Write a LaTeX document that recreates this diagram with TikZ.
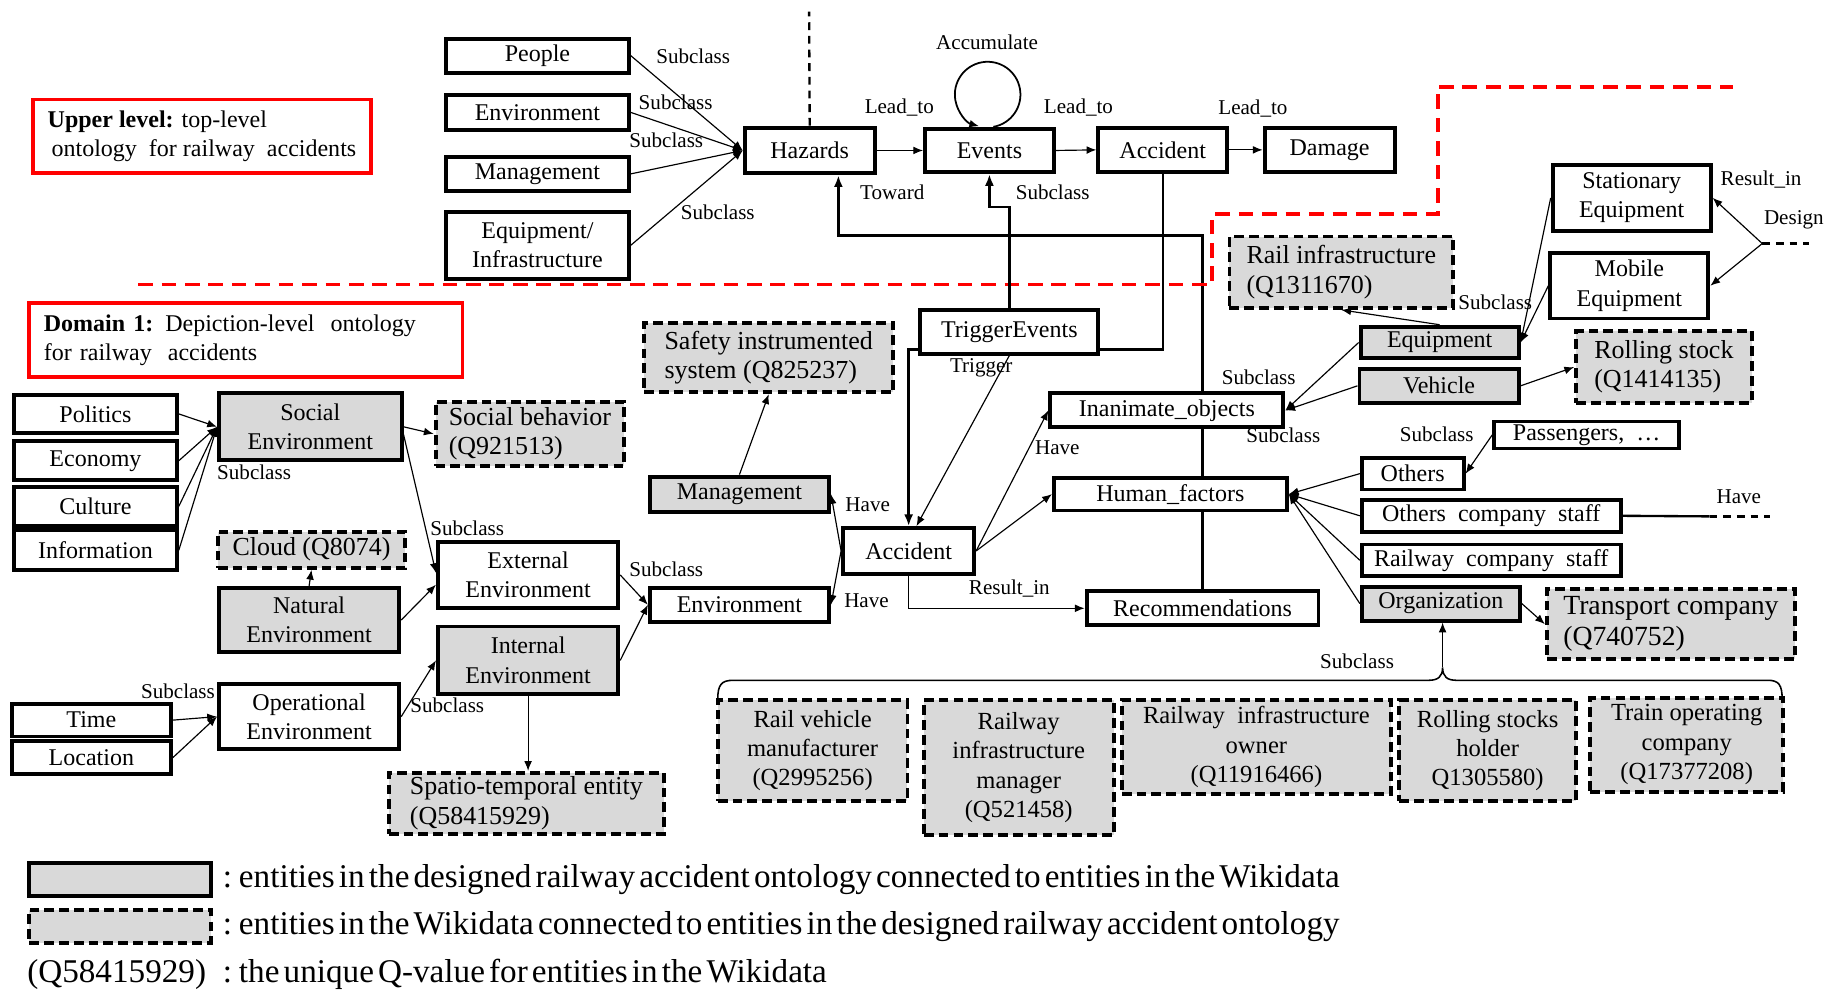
\documentclass[tikz,border=0pt]{standalone}
\usepackage{fontspec}
\setmainfont{Liberation Serif}
\newfontfamily\legendfont[WordSpace=0.5]{Liberation Serif}
\usetikzlibrary{arrows.meta,backgrounds,calc}
\definecolor{boxgray}{RGB}{217,217,217}
\newcommand\fsmain{\fontsize{12.3}{15}\selectfont}
\newcommand\fsq{\fontsize{13.3}{15}\selectfont}
\newcommand\fstr{\fontsize{14.2}{16}\selectfont}
\newcommand\fslbl{\fontsize{10.8}{12}\selectfont}
\newcommand\fsbot{\fontsize{12.6}{15}\selectfont}
\newcommand\fsleg{\legendfont\fontsize{17}{20}\selectfont}
% a node given by its corners: style, name, x1, y1, x2, y2, text
\newcommand\boxat[7]{%
  \pgfmathsetmacro\bxw{((#5)-(#3))*0.6}%
  \pgfmathsetmacro\bxh{((#6)-(#4))*0.6}%
  \pgfmathsetmacro\bxcx{((#3)+(#5))/2}%
  \pgfmathsetmacro\bxcy{((#4)+(#6))/2}%
  \node[#1, minimum width=\bxw pt, minimum height=\bxh pt] (#2) at (\bxcx,\bxcy) {#7};}
\tikzset{
  box/.style={draw, line width=2pt, fill=white, inner sep=0pt, align=center, font=\fsmain},
  gbox/.style={box, fill=boxgray},
  qbox/.style={draw, line width=2pt, dash pattern=on 5pt off 2.6pt, fill=boxgray,
    inner sep=0pt, align=left, font=\fsq},
  redbox/.style={draw=red, line width=2pt, inner sep=0pt, font=\fsmain},
  lbl/.style={inner sep=0pt, font=\fslbl},
  arr/.style={line width=0.6pt, -{Latex[length=5pt,width=4pt]}},
  thickarr/.style={line width=1.2pt, -{Latex[length=6pt,width=4.6pt]}},
  link/.style={line width=1.2pt},
  dashlink/.style={line width=1.2pt, dash pattern=on 4pt off 3pt},
  reddash/.style={draw=red, line width=2pt, dash pattern=on 7.5pt off 4.5pt},
}
\begin{document}
\begin{tikzpicture}[x=0.6pt, y=-0.6pt]
\useasboundingbox (0,0) rectangle (1568,850);

% ---------- upper level ----------
\boxat{redbox, align=left}{upper}{28}{85}{317}{148}
  {\textbf{Upper level:} top-level\\\hspace*{2pt}ontology\ \ for railway\ \ accidents}
\boxat{box}{people}{381}{33}{537}{62}{People}
\boxat{box}{envtop}{381}{81}{537}{111}{Environment}
\boxat{box}{mgmttop}{381}{134}{537}{163}{Management}
\boxat{box}{eqinf}{381}{181}{537}{238}{Equipment/\\Infrastructure}
\boxat{box}{hazards}{636}{109}{747}{148}{Hazards}
\boxat{box}{events}{790}{110}{900}{147}{Events}
\boxat{box}{acctop}{938}{109}{1048}{147}{Accident}
\boxat{box}{damage}{1080}{109}{1191}{147}{Damage}

% ---------- depiction level ----------
\boxat{redbox, text width=207pt, align=left}{domain}{25}{259}{395}{322}
  {\textbf{Domain 1:} Depiction-level\ \ ontology\\for railway\ \ accidents}
\boxat{qbox}{safety}{550}{276}{763}{335}{Safety instrumented\\system (Q825237)}
\boxat{box}{politics}{12}{337}{151}{370}{Politics}
\boxat{box}{economy}{12}{377}{151}{410}{Economy}
\boxat{box}{culture}{12}{416}{151}{449}{Culture}
\boxat{box}{info}{12}{453}{151}{487}{Information}
\boxat{gbox}{social}{187}{336}{343}{393}{Social\\Environment}
\boxat{qbox}{socbeh}{372}{343}{533}{398}{Social behavior\\(Q921513)}
\boxat{qbox, align=center}{cloud}{186}{454}{346}{485}{Cloud (Q8074)}
\boxat{gbox}{natural}{187}{502}{341}{557}{Natural\\Environment}
\boxat{box}{external}{374}{463}{528}{519}{External\\Environment}
\boxat{gbox}{internal}{374}{535}{528}{593}{Internal\\Environment}
\boxat{box}{operational}{187}{584}{341}{640}{Operational\\Environment}
\boxat{box}{time}{10}{601}{146}{629}{Time}
\boxat{box}{location}{10}{633}{146}{661}{Location}
\boxat{qbox}{spatio}{332}{660}{567}{712}{Spatio-temporal entity\\(Q58415929)}
\boxat{gbox}{mgmt}{555}{407}{708}{437}{Management}
\boxat{box}{env}{555}{502}{708}{531}{Environment}
\boxat{box}{acc}{720}{451}{832}{490}{Accident}
\boxat{box}{trig}{786}{265}{938}{302}{TriggerEvents}
\boxat{box}{inanim}{897}{336}{1096}{365}{Inanimate\_objects}
\boxat{box}{human}{900}{408}{1099}{436}{Human\_factors}
\boxat{box}{reco}{928}{505}{1126}{534}{Recommendations}

\boxat{qbox}{railinf}{1050}{202}{1241}{263}{Rail infrastructure\\(Q1311670)}
\boxat{box}{stat}{1326}{141}{1461}{197}{Stationary\\Equipment}
\boxat{box}{mobile}{1324}{216}{1459}{272}{Mobile\\Equipment}
\boxat{gbox}{equip}{1162}{279}{1297}{306}{Equipment}
\boxat{gbox}{vehicle}{1161}{315}{1297}{344}{Vehicle}
\boxat{qbox}{rolling}{1346}{283}{1496}{344}{Rolling stock\\(Q1414135)}
\boxat{box}{pass}{1276}{360}{1434}{383}{Passengers,\ \ …}
\boxat{box}{others}{1163}{391}{1250}{418}{Others}
\boxat{box}{ocs}{1163}{427}{1384}{454}{Others\ \ company\ \ staff}
\boxat{box}{rcs}{1163}{465}{1384}{492}{Railway\ \ company\ \ staff}
\boxat{gbox}{org}{1163}{501}{1298}{530}{Organization}
\boxat{qbox, font=\fstr}{transport}{1321}{503}{1533}{563}{Transport company\\(Q740752)}

% organisation subclasses
\boxat{qbox, align=center, font=\fsbot}{rvm}{613}{598}{775}{684}{Rail vehicle\\manufacturer\\(Q2995256)}
\boxat{qbox, align=center, font=\fsbot}{rim}{789}{598}{951}{713}{Railway\\infrastructure\\manager\\(Q521458)}
\boxat{qbox, align=center, font=\fsbot}{rio}{958}{598}{1188}{678}{Railway\ \ infrastructure\\owner\\(Q11916466)}
\boxat{qbox, align=center, font=\fsbot}{rsh}{1195}{598}{1346}{684}{Rolling stocks\\holder\\Q1305580)}
\boxat{qbox, align=center, font=\fsbot}{toc}{1358}{596}{1523}{676}{Train operating\\company\\(Q17377208)}

% ---------- legend ----------
\boxat{gbox}{leg1}{25}{737}{180}{765}{}
\boxat{qbox}{leg2}{25}{777}{180}{805}{}
\node[anchor=west, inner sep=0pt, font=\fsleg] (leg1t) at (190,751)
  {: entities in the designed railway accident ontology connected to entities in the Wikidata};
\node[anchor=west, inner sep=0pt, font=\fsleg] (leg2t) at (190,791)
  {: entities in the Wikidata connected to entities in the designed railway accident ontology};
\node[anchor=west, inner sep=0pt, font=\fsleg] (leg3q) at (23,832) {(Q58415929)};
\node[anchor=west, inner sep=0pt, font=\fsleg] (leg3t) at (190,832)
  {: the unique Q-value for entities in the Wikidata};

% ---------- edge labels ----------
\node[lbl] (lacc) at (843,36) {Accumulate};
\node[lbl] (llead1) at (768,92) {Lead\_to};
\node[lbl] (llead2) at (921,92) {Lead\_to};
\node[lbl] (llead3) at (1070,93) {Lead\_to};
\node[lbl] (ls1) at (592,48) {Subclass};
\node[lbl] (ls2) at (577,87) {Subclass};
\node[lbl] (ls3) at (569,120) {Subclass};
\node[lbl] (ls4) at (613,181) {Subclass};
\node[lbl] (ltoward) at (762,164) {Toward};
\node[lbl] (ls5) at (899,164) {Subclass};
\node[lbl] (ltrig) at (838,314) {Trigger};
\node[lbl] (ls6) at (217,403) {Subclass};
\node[lbl] (ls7) at (399,451) {Subclass};
\node[lbl] (ls8) at (569,486) {Subclass};
\node[lbl] (ls9) at (152,590) {Subclass};
\node[lbl] (ls10) at (382,602) {Subclass};
\node[lbl] (lhave1) at (741,431) {Have};
\node[lbl] (lhave2) at (740,513) {Have};
\node[lbl] (lhave3) at (903,382) {Have};
\node[lbl] (lres1) at (862,503) {Result\_in};
\node[lbl] (ls11) at (1075,322) {Subclass};
\node[lbl] (ls12) at (1096,372) {Subclass};
\node[lbl] (ls13) at (1277,258) {Subclass};
\node[lbl] (lres2) at (1504,153) {Result\_in};
\node[lbl] (ldesign) at (1532,188) {Design};
\node[lbl] (ls14) at (1227,371) {Subclass};
\node[lbl] (lhave4) at (1485,424) {Have};
\node[lbl] (ls15) at (1159,565) {Subclass};

% ---------- level boundary ----------
\draw[reddash] (118,243) -- (1035,243) -- (1035,183) -- (1228,183) -- (1228,74) -- (1480,74);

% ---------- connectors ----------
\coordinate (hztop) at (691,10);
\draw[dashlink] (hazards.north) -- (hztop);
\foreach \s in {people,envtop,mgmttop,eqinf} \draw[arr] (\s.east) -- (hazards.west);
\draw[arr] (hazards.east) -- (events.west);
\draw[arr] (events.east) -- (acctop.west);
\draw[arr] (acctop.east) -- (damage.west);
\draw[line width=0.9pt, -{Latex[length=5pt,width=4pt]}] ([xshift=2pt]events.north)
  arc[start angle=-80, end angle=255, radius=16.8pt];

\coordinate (evj) at (845,177);
\draw[thickarr] (trig.north) |- (evj) -- (events.south);
\draw[link] (acctop.south) |- ([yshift=-9pt]trig.east);
\draw[thickarr] ([yshift=-9pt]trig.west) -| (acc.north);
\draw[arr] (trig.south) -- ([xshift=4pt]acc.north);

\begin{pgfonlayer}{background}
  \fill[white] (0,0) rectangle (1568,850);
  \coordinate (tw) at (716,201);
  \draw[thickarr] (reco.north) |- (tw) -- (tw |- hazards.south);
\end{pgfonlayer}

\foreach \s in {politics,economy,culture,info} \draw[arr] (\s.east) -- (social.west);
\draw[arr] (social.east) -- (socbeh.west);
\draw[arr] ([yshift=-4pt]social.east) -- ([yshift=1pt]external.west);
\draw[arr] (natural.east) -- ([yshift=-5pt]external.west);
\draw[arr] (natural.north) -- (cloud.south);
\draw[arr] (time.east) -- (operational.west);
\draw[arr] (location.east) -- (operational.west);
\draw[arr] (operational.east) -- (internal.west);
\draw[arr] (internal.south) -- (internal.south |- spatio.north);
\draw[arr] (external.east) -- (env.west);
\draw[arr] (internal.east) -- (env.west);
\draw[arr] (mgmt.north) -- (safety.south);
\draw[arr] (acc.west) -- (mgmt.east);
\draw[arr] (acc.west) -- (env.east);
\draw[arr] (acc.east) -- (inanim.west);
\draw[arr] (acc.east) -- (human.west);
\draw[arr] (acc.south) |- (reco.west);

\draw[arr] (equip.north) -- (railinf.south);
\draw[arr] (stat.west) -- (equip.east);
\draw[arr] (mobile.west) -- (equip.east);
\coordinate (design) at (1505,208);
\coordinate (designend) at (1545,208);
\draw[arr] (design) -- (stat.east);
\draw[arr] (design) -- (mobile.east);
\draw[dashlink] (design) -- (designend);
\draw[arr] (equip.west) -- (inanim.east);
\draw[arr] (vehicle.west) -- (inanim.east);
\draw[arr] (vehicle.east) -- (rolling.west);
\draw[arr] (pass.west) -- (others.east);
\foreach \s in {others,ocs,rcs,org} \draw[arr] (\s.west) -- (human.east);
\draw[arr] (org.east) -- (transport.west);
\coordinate (havemid) at (1460,441);
\coordinate (haveend) at (1512,441);
\draw[link] (ocs.east) -- (havemid);
\draw[dashlink] (havemid) -- (haveend);

% brace gathering the organisation subclasses
\coordinate (bl) at (613,597);
\coordinate (br) at (1522,597);
\coordinate (btip) at (1232,570);
\draw[line width=0.8pt] (bl) .. controls (613,585) and (616,581) .. (626,581) -- (1220,581)
  .. controls (1228,581) and (1232,578) .. (btip)
  .. controls (1232,578) and (1236,581) .. (1244,581) -- (1510,581)
  .. controls (1519,581) and (1522,585) .. (br);
\draw[arr] (btip) -- (btip |- org.south);
\end{tikzpicture}
\end{document}
